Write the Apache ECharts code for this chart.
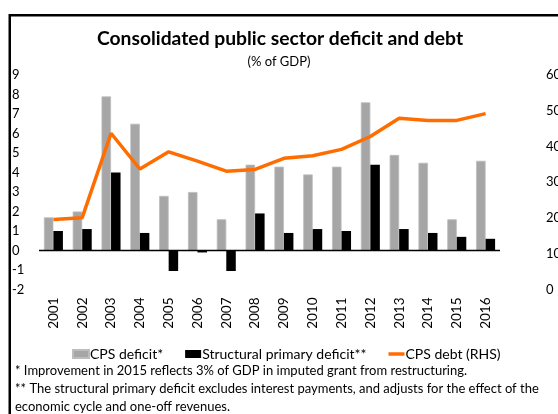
<!DOCTYPE html>
<html>
<head>
<meta charset="utf-8">
<script src="https://cdn.jsdelivr.net/npm/echarts@6/dist/echarts.min.js"></script>
<style>
  html, body { margin: 0; padding: 0; background: #fff; }
  #chart { width: 558px; height: 414px; }
</style>
</head>
<body>
<div id="chart"></div>
<script>
// Years on the category axis
const years = ['2001','2002','2003','2004','2005','2006','2007','2008',
               '2009','2010','2011','2012','2013','2014','2015','2016'];
// CPS deficit, % of GDP (left axis)
const cpsDeficit = [1.7, 2.0, 7.9, 6.5, 2.8, 3.0, 1.6, 4.4,
                    4.3, 3.9, 4.3, 7.6, 4.9, 4.5, 1.6, 4.6];
// Structural primary deficit, % of GDP (left axis)
const structuralPrimary = [1.0, 1.1, 4.0, 0.9, -1.05, -0.1, -1.05, 1.9,
                           0.9, 1.1, 1.0, 4.4, 1.1, 0.9, 0.7, 0.6];
// CPS debt, % of GDP (right axis)
const cpsDebt = [19.6, 20.1, 43.7, 33.7, 38.5, 35.9, 33.1, 33.6,
                 36.7, 37.4, 39.2, 42.8, 47.9, 47.3, 47.3, 49.2];

const FONT = 'Lato, "Open Sans", sans-serif';
const chart = echarts.init(document.getElementById('chart'), null, { renderer: 'canvas' });

chart.setOption({
  animation: false,
  backgroundColor: '#fff',
  textStyle: { fontFamily: FONT, color: '#000' },
  title: [
    {
      text: 'Consolidated public sector deficit and debt',
      left: 275, top: 24, textAlign: 'center',
      textStyle: { fontFamily: FONT, fontSize: 19.3, fontWeight: 'bold', color: '#000' }
    },
    {
      text: '(% of GDP)',
      left: 274, top: 50, textAlign: 'center',
      textStyle: { fontFamily: FONT, fontSize: 13, fontWeight: 'normal', color: '#000' }
    }
  ],
  grid: { left: 39, right: 58, top: 75, bottom: 124.5, containLabel: false, outerBoundsMode: 'none' },
  legend: {
    top: 342, left: 67,
    itemWidth: 16, itemHeight: 8, itemGap: 22,
    textStyle: { fontFamily: FONT, fontSize: 14, color: '#000', padding: [0, 0, 0, -4] },
    data: [
      { name: 'CPS deficit*', icon: 'rect' },
      { name: 'Structural primary deficit**', icon: 'rect' },
      { name: 'CPS debt (RHS)', icon: 'path://M0,0 L16,0 L16,3.5 L0,3.5 Z' }
    ]
  },
  xAxis: {
    type: 'category',
    data: years,
    position: 'bottom',
    axisLine: { show: false, onZero: false },
    axisTick: { show: false },
    axisLabel: {
      rotate: 90, margin: 8, color: '#000',
      fontFamily: FONT, fontSize: 13.5
    },
    splitLine: { show: false }
  },
  yAxis: [
    {
      type: 'value', min: -2, max: 9, interval: 1,
      axisLine: { show: false }, axisTick: { show: false },
      splitLine: { show: false },
      axisLabel: { align: 'left', margin: 27, color: '#000', fontFamily: FONT, fontSize: 13 }
    },
    {
      type: 'value', min: 0, max: 60, interval: 10,
      position: 'right',
      axisLine: { show: false }, axisTick: { show: false },
      splitLine: { show: false },
      axisLabel: { align: 'left', margin: 46, color: '#000', fontFamily: FONT, fontSize: 13 }
    }
  ],
  series: [
    {
      name: 'CPS deficit*',
      type: 'bar',
      data: cpsDeficit,
      barWidth: '33%',
      barGap: '0%',
      itemStyle: { color: '#a6a6a6', borderColor: '#bdbdbd', borderWidth: 0.8 },
      markLine: {
        silent: true, symbol: 'none',
        label: { show: false },
        lineStyle: { color: '#000', type: 'solid', width: 1.3 },
        data: [{ yAxis: 0 }]
      },
      z: 2
    },
    {
      name: 'Structural primary deficit**',
      type: 'bar',
      data: structuralPrimary,
      barWidth: '33%',
      itemStyle: { color: '#000' },
      z: 2
    },
    {
      name: 'CPS debt (RHS)',
      type: 'line',
      yAxisIndex: 1,
      data: cpsDebt,
      symbol: 'none',
      lineStyle: { color: '#ff6d00', width: 3.5 },
      itemStyle: { color: '#ff6d00' },
      z: 5
    }
  ],
  graphic: [
    {
      type: 'rect',
      shape: { x: 9.75, y: 15.25, width: 600, height: 450 },
      style: { fill: 'none', stroke: '#000', lineWidth: 2.5 },
      silent: true, z: 100
    },
    {
      type: 'text', left: 15, top: 364,
      style: {
        text: '* Improvement in 2015 reflects 3% of GDP in imputed grant from restructuring.',
        fontFamily: FONT, fontSize: 13, fill: '#000'
      }
    },
    {
      type: 'text', left: 15, top: 382,
      style: {
        text: '** The structural primary deficit excludes interest payments, and adjusts for the effect of the',
        fontFamily: FONT, fontSize: 13, fill: '#000'
      }
    },
    {
      type: 'text', left: 15, top: 400,
      style: {
        text: 'economic cycle and one-off revenues.',
        fontFamily: FONT, fontSize: 13, fill: '#000'
      }
    }
  ]
});
</script>
</body>
</html>
